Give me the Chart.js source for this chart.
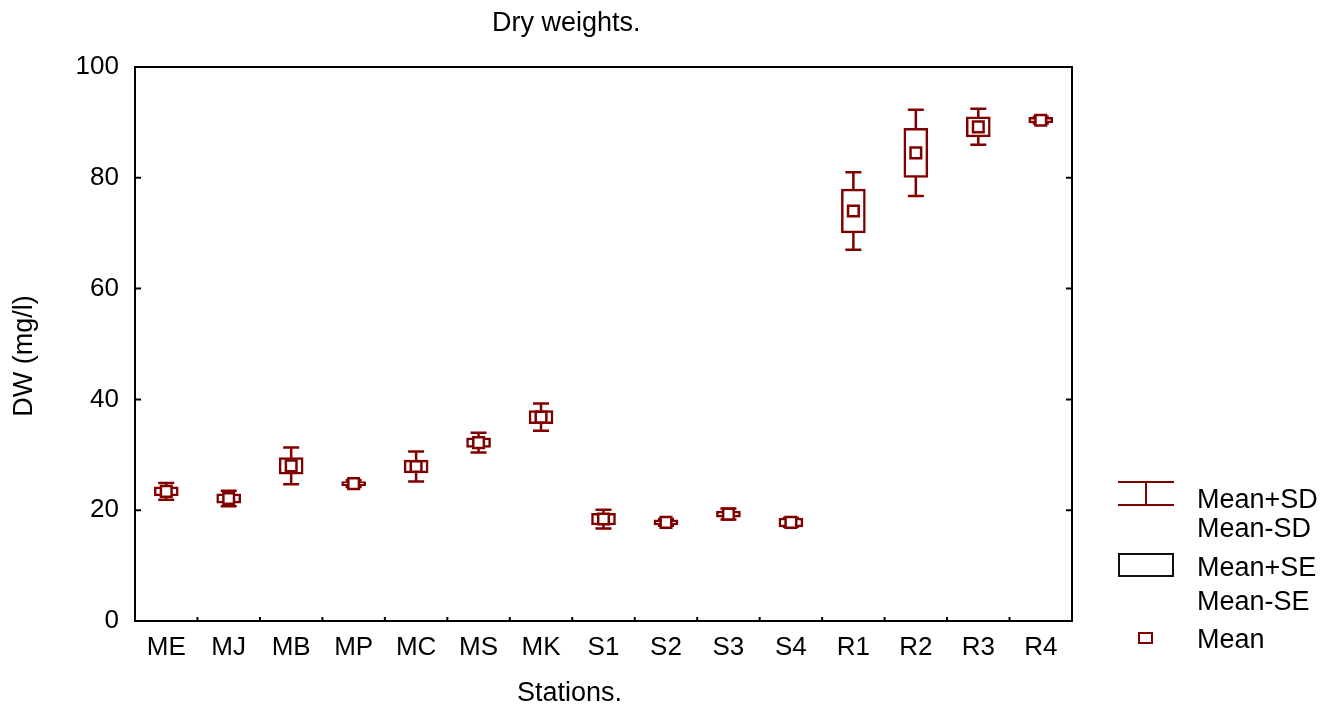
<!DOCTYPE html>
<html>
<head>
<meta charset="utf-8">
<script src="https://cdn.jsdelivr.net/npm/chart.js@4.4.0/dist/chart.umd.min.js"></script>
<style>
  body { margin: 0; background: #fff; }
  #wrap { position: relative; width: 1339px; height: 711px; font-family: "Liberation Sans", Arial, sans-serif; color: #000; }
  #chart { position: absolute; left: 0; top: 0; }
  .txt { position: absolute; font-size: 27px; line-height: 30px; white-space: nowrap; }
  .sd-icon { position: absolute; left: 1118px; top: 481px; width: 56px; height: 25px; box-sizing: border-box;
             border-top: 2px solid #800000; border-bottom: 2px solid #800000; }
  .sd-icon:after { content: ""; position: absolute; left: 27px; top: 0; width: 2px; height: 100%; background: #800000; }
  .se-icon { position: absolute; left: 1118px; top: 553px; width: 56px; height: 24px; box-sizing: border-box; border: 2px solid #111; }
  .mean-icon { position: absolute; left: 1138px; top: 632px; width: 15px; height: 12px; box-sizing: border-box; border: 2px solid #800000; }
</style>
</head>
<body>
<div id="wrap">
  <canvas id="chart" width="1339" height="711"></canvas>
  <div class="txt" style="left:492px; top:7px;">Dry weights.</div>
  <div class="txt" style="left:517px; top:677px;">Stations.</div>
  <div class="txt" style="left:-77px; top:341px; width:200px; text-align:center; transform:rotate(-90deg);">DW (mg/l)</div>

  <div class="sd-icon"></div>
  <div class="txt" style="left:1197px; top:484px;">Mean+SD</div>
  <div class="txt" style="left:1197px; top:513px;">Mean-SD</div>
  <div class="se-icon"></div>
  <div class="txt" style="left:1197px; top:552px;">Mean+SE</div>
  <div class="txt" style="left:1197px; top:586px;">Mean-SE</div>
  <div class="mean-icon"></div>
  <div class="txt" style="left:1197px; top:624px;">Mean</div>
</div>
<script>
const stations = ['ME', 'MJ', 'MB', 'MP', 'MC', 'MS', 'MK', 'S1', 'S2', 'S3', 'S4', 'R1', 'R2', 'R3', 'R4'];
const means = [23.4, 22.1, 28.0, 24.8, 27.9, 32.2, 36.8, 18.4, 17.8, 19.3, 17.8, 74.0, 84.5, 89.2, 90.4];
const sd = [1.5, 1.4, 3.3, 0.6, 2.7, 1.8, 2.45, 1.7, 0.6, 1.0, 0.8, 7.0, 7.8, 3.25, 0.6];
const se = [0.8, 0.85, 1.5, 0.35, 1.15, 0.85, 1.2, 1.05, 0.45, 0.55, 0.8, 3.95, 4.45, 1.8, 0.5];
const yTicks = [0, 20, 40, 60, 80, 100];

const darkRed = '#800000';

// whiskers (mean +/- SD) under the SE boxes
const whiskers = {
  id: 'whiskers',
  beforeDatasetsDraw(chart) {
    const { ctx, scales: { x, y } } = chart;
    ctx.save();
    ctx.strokeStyle = darkRed;
    ctx.lineWidth = 2.5;
    means.forEach((m, i) => {
      const px = x.getPixelForValue(i);
      const top = y.getPixelForValue(m + sd[i]);
      const bot = y.getPixelForValue(m - sd[i]);
      ctx.beginPath();
      ctx.moveTo(px, top); ctx.lineTo(px, bot);
      ctx.moveTo(px - 8, top); ctx.lineTo(px + 8, top);
      ctx.moveTo(px - 8, bot); ctx.lineTo(px + 8, bot);
      ctx.stroke();
    });
    ctx.restore();
  }
};

// frame and inward tick marks
const frame = {
  id: 'frame',
  afterDraw(chart) {
    const { ctx, chartArea: a, scales: { x, y } } = chart;
    ctx.save();
    ctx.strokeStyle = '#000';
    ctx.lineWidth = 2;
    ctx.strokeRect(a.left, a.top, a.right - a.left, a.bottom - a.top);
    ctx.beginPath();
    yTicks.forEach(v => {
      const py = y.getPixelForValue(v);
      ctx.moveTo(a.left, py); ctx.lineTo(a.left + 6, py);
      ctx.moveTo(a.right, py); ctx.lineTo(a.right - 6, py);
    });
    for (let i = 0; i < stations.length - 1; i++) {
      const px = (x.getPixelForValue(i) + x.getPixelForValue(i + 1)) / 2;
      ctx.moveTo(px, a.bottom); ctx.lineTo(px, a.bottom - 4);
    }
    ctx.stroke();
    ctx.restore();
  }
};

new Chart(document.getElementById('chart'), {
  type: 'bar',
  data: {
    labels: stations,
    datasets: [
      {
        type: 'line',
        label: 'Mean',
        data: means,
        showLine: false,
        pointStyle: 'rect',
        pointRadius: 7.5,
        borderWidth: 2.5,
        borderColor: darkRed,
        backgroundColor: '#fff',
        order: 0
      },
      {
        label: 'Mean+SE / Mean-SE',
        data: means.map((m, i) => [m - se[i], m + se[i]]),
        backgroundColor: '#fff',
        borderColor: darkRed,
        borderWidth: 2.5,
        borderSkipped: false,
        barThickness: 24,
        order: 1
      }
    ]
  },
  options: {
    responsive: false,
    animation: false,
    layout: { padding: { top: 67, right: 267, left: 0, bottom: 0 } },
    plugins: { legend: { display: false }, tooltip: { enabled: false } },
    scales: {
      x: {
        grid: { display: false, drawTicks: false },
        border: { display: false },
        ticks: { color: '#000', padding: 11, font: { family: 'Liberation Sans', size: 26 } },
        afterFit(scale) { scale.height = 90; }
      },
      y: {
        min: 0,
        max: 100,
        grid: { display: false, drawTicks: false },
        border: { display: false },
        ticks: { stepSize: 20, color: '#000', padding: 16, font: { family: 'Liberation Sans', size: 26 } },
        afterFit(scale) { scale.width = 135; }
      }
    }
  },
  plugins: [whiskers, frame]
});
</script>
</body>
</html>
